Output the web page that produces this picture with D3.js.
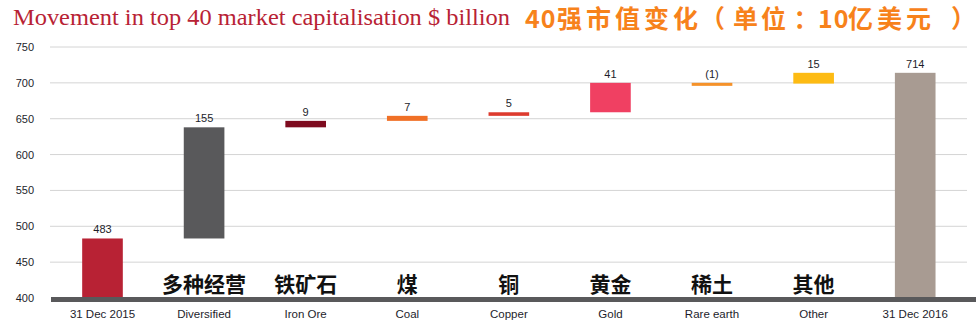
<!DOCTYPE html>
<html>
<head>
<meta charset="utf-8">
<script src="https://cdn.jsdelivr.net/npm/d3@7"></script>
<style>
  html, body { margin: 0; padding: 0; background: #fff; }
  svg { display: block; }
</style>
</head>
<body>
<svg id="chart" width="976" height="331"></svg>
<script>
// Waterfall of the change in top-40 mining market capitalisation, 2015 → 2016 ($bn)
const categories = ["31 Dec 2015", "Diversified", "Iron Ore", "Coal", "Copper", "Gold", "Rare earth", "Other", "31 Dec 2016"];
const chineseLabels = ["", "多种经营", "铁矿石", "煤", "铜", "黄金", "稀土", "其他", ""];
const values = [483, 155, 9, 7, 5, 41, -1, 15, 714];
const isTotal = [true, false, false, false, false, false, false, false, true];
const valueLabels = ["483", "155", "9", "7", "5", "41", "(1)", "15", "714"];
const colors = ["#B82234", "#59595B", "#7E0B1F", "#F07026", "#DD3B2E", "#F04062", "#F5922A", "#FDBB13", "#A89B92"];
const yTicks = [400, 450, 500, 550, 600, 650, 700, 750];

const svg = d3.select("#chart");

const x = d3.scaleBand()
  .domain(categories)
  .range([51.7, 966])
  .paddingInner(0.6)
  .paddingOuter(0.3);

const y = d3.scaleLinear().domain([400, 750]).range([298, 47]);

// Running totals for the floating bars
let running = 0;
const bars = categories.map((c, i) => {
  let lo, hi;
  if (isTotal[i]) { lo = 400; hi = values[i]; running = values[i]; }
  else { const start = running; running += values[i]; lo = Math.min(start, running); hi = Math.max(start, running); }
  return { c, i, lo, hi, v: values[i] };
});

// Gridlines
svg.append("g")
  .selectAll("line")
  .data(yTicks.slice(1))
  .join("line")
  .attr("x1", 50).attr("x2", 967)
  .attr("y1", d => y(d)).attr("y2", d => y(d))
  .attr("stroke", "#d4d4d4").attr("stroke-width", 1);

// Y axis labels
const yAxis = d3.axisLeft(y).tickValues(yTicks).tickSize(0).tickPadding(0);
svg.append("g")
  .attr("transform", "translate(34,0)")
  .call(yAxis)
  .call(g => g.select(".domain").remove())
  .call(g => g.selectAll("text")
    .attr("font-family", "Liberation Sans, Arial, sans-serif")
    .attr("font-size", 11)
    .attr("fill", "#1d1d2b"));

// Bars (tiny movements kept visible with a 3px minimum)
svg.append("g")
  .selectAll("rect")
  .data(bars)
  .join("rect")
  .attr("x", d => x(d.c))
  .attr("width", x.bandwidth())
  .attr("y", d => y(d.hi))
  .attr("height", d => Math.max(3, y(d.lo) - y(d.hi)))
  .attr("fill", (d, i) => colors[i]);

// Baseline
svg.append("rect")
  .attr("x", 51).attr("y", 297)
  .attr("width", 925).attr("height", 5)
  .attr("fill", "#59595B");

// Value labels above bars
svg.append("g")
  .selectAll("text")
  .data(bars)
  .join("text")
  .attr("x", d => x(d.c) + x.bandwidth() / 2)
  .attr("y", d => y(d.hi) - 5)
  .attr("text-anchor", "middle")
  .attr("font-family", "Liberation Sans, Arial, sans-serif")
  .attr("font-size", 11)
  .attr("fill", "#1d1d2b")
  .text((d, i) => valueLabels[i]);

// Category labels below baseline
const xAxis = d3.axisBottom(x).tickSize(0).tickPadding(0);
svg.append("g")
  .attr("transform", "translate(0,314)")
  .call(xAxis)
  .call(g => g.select(".domain").remove())
  .call(g => g.selectAll("text")
    .attr("dy", "0.32em")
    .attr("font-family", "Liberation Sans, Arial, sans-serif")
    .attr("font-size", 11.5)
    .attr("fill", "#1d1d2b"));

// Chinese category labels
svg.append("g")
  .selectAll("text")
  .data(categories.map((c, i) => ({ c, t: chineseLabels[i] })).filter(d => d.t))
  .join("text")
  .attr("x", d => x(d.c) + x.bandwidth() / 2)
  .attr("y", 292)
  .attr("text-anchor", "middle")
  .attr("font-family", "Noto Sans CJK SC, sans-serif")
  .attr("font-weight", 700)
  .attr("font-size", 21)
  .attr("fill", "#111")
  .text(d => d.t);

// English title
svg.append("text")
  .attr("x", 13).attr("y", 25)
  .attr("font-family", "Liberation Serif, serif")
  .attr("font-size", 23)
  .attr("fill", "#B82234")
  .attr("textLength", 497)
  .attr("lengthAdjust", "spacingAndGlyphs")
  .text("Movement in top 40 market capitalisation $ billion");

// Chinese title, set in pieces: digits tight, ideographs slightly tracked
const cnTitle = svg.append("g")
  .attr("font-family", "Noto Sans CJK SC, sans-serif")
  .attr("font-weight", 700)
  .attr("font-size", 25)
  .attr("fill", "#F7821B");
const cnParts = [
  { t: "40", x: 525, anchor: "start", ls: 1 },
  { t: "强市值变化", x: 557, anchor: "start", ls: 4 },
  { t: "（", x: 725, anchor: "end", ls: 0 },
  { t: "单位", x: 733, anchor: "start", ls: 3 },
  { t: "：", x: 806, anchor: "middle", ls: 0 },
  { t: "10", x: 818, anchor: "start", ls: 1 },
  { t: "亿美元", x: 848, anchor: "start", ls: 4 },
  { t: "）", x: 951, anchor: "start", ls: 0 }
];
cnTitle.selectAll("text")
  .data(cnParts)
  .join("text")
  .attr("x", d => d.x)
  .attr("y", 28)
  .attr("text-anchor", d => d.anchor)
  .attr("letter-spacing", d => d.ls)
  .text(d => d.t);
</script>
</body>
</html>
